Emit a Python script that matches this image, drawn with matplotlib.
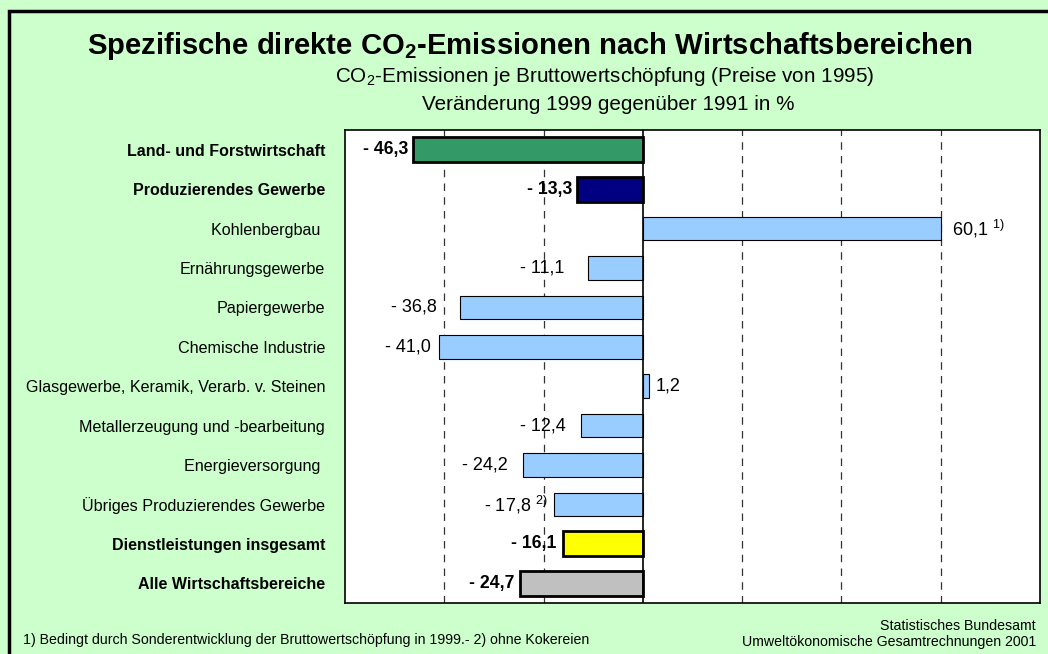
import matplotlib
matplotlib.use("Agg")
import matplotlib.pyplot as plt
from matplotlib.patches import Rectangle

plt.rcParams['font.family'] = ['Liberation Sans', 'DejaVu Sans']
plt.rcParams['mathtext.fontset'] = 'custom'
plt.rcParams['mathtext.rm'] = 'Liberation Sans'
plt.rcParams['mathtext.it'] = 'Liberation Sans:italic'
plt.rcParams['mathtext.bf'] = 'Liberation Sans:bold'

# ---- data ----
categories = [
    "Land- und Forstwirtschaft",
    "Produzierendes Gewerbe",
    "Kohlenbergbau ",
    "Ernährungsgewerbe",
    "Papiergewerbe",
    "Chemische Industrie",
    "Glasgewerbe, Keramik, Verarb. v. Steinen",
    "Metallerzeugung und -bearbeitung",
    "Energieversorgung ",
    "Übriges Produzierendes Gewerbe",
    "Dienstleistungen insgesamt",
    "Alle Wirtschaftsbereiche",
]
values = [-46.3, -13.3, 60.1, -11.1, -36.8, -41.0, 1.2, -12.4, -24.2, -17.8, -16.1, -24.7]
notes = ["", "", "1)", "", "", "", "", "", "", "2)", "", ""]

# ---- styles ----
bold = [True, True, False, False, False, False, False, False, False, False, True, True]
colors = ["#339966", "#000080", "#99CCFF", "#99CCFF", "#99CCFF", "#99CCFF", "#99CCFF",
          "#99CCFF", "#99CCFF", "#99CCFF", "#FFFF00", "#C0C0C0"]
label_gap = [5, 5, 11, 23, 23, 8, 7, 16, 15, 7, 7, 6]  # pixels between bar end and label

BG = "#CCFFCC"
fig = plt.figure(figsize=(10.48, 6.54), dpi=100, facecolor=BG)
W, H = 1048, 654
renderer = fig.canvas.get_renderer()


def fit_width(t, target_px):
    w = t.get_window_extent(renderer).width
    if w > 0:
        t.set_fontsize(t.get_fontsize() * target_px / w)
    return t.get_fontsize()


# outer frame
fig.patches.append(Rectangle((9 / W, -0.1), 1.2, 1 - 11 / H + 0.1, transform=fig.transFigure,
                             fill=False, edgecolor="black", linewidth=2.5))

ax = fig.add_axes([345 / W, 1 - 603 / H, (1040 - 345) / W, (603 - 130) / H])
ax.set_facecolor("white")

n = len(categories)
ypos = list(range(n))
for i, (v, c, b) in enumerate(zip(values, colors, bold)):
    ax.barh(i, v, height=0.63 if b else 0.6, color=c, edgecolor="black",
            linewidth=2.0 if b else 0.8, zorder=3)

ax.set_xlim(-60, 80)
ax.set_ylim(n - 0.5, -0.5)
for gx in [-40, -20, 20, 40, 60]:
    ax.axvline(gx, color="#333333", linestyle=(0, (6, 5)), linewidth=0.9, zorder=1)
ax.axvline(0, color="black", linewidth=1.2, zorder=4)

ax.set_xticks([])
ax.set_yticks(ypos)
ax.set_yticklabels(categories)
ax.tick_params(axis="y", length=0, pad=14.4)
for s in ax.spines.values():
    s.set_linewidth(1.2)
    s.set_color("black")

# category label sizes: fit normal and bold references
ylabels = ax.get_yticklabels()
for lab, b in zip(ylabels, bold):
    lab.set_fontsize(10)
    lab.set_fontweight("bold" if b else "normal")
fig.canvas.draw()
fs_norm = fit_width(ylabels[6], 299)
fs_bold = fit_width(ylabels[0], 197)
for lab, b in zip(ylabels, bold):
    lab.set_fontsize(fs_bold if b else fs_norm)


def fmt(v):
    s = f"{abs(v):.1f}".replace(".", ",")
    return ("- " + s) if v < 0 else s


# value label sizes
probe_n = fig.text(0, 0, "- 17,8", fontsize=10)
probe_b = fig.text(0, 0, "- 46,3", fontsize=10, fontweight="bold")
vfs_norm = fit_width(probe_n, 46)
vfs_bold = fit_width(probe_b, 45)
probe_n.remove()
probe_b.remove()

for i, (v, b, g, nt) in enumerate(zip(values, bold, label_gap, notes)):
    txt = fmt(v)
    if nt:
        txt = txt + " $^{" + nt + "}$"
    fs = vfs_bold if b else vfs_norm
    fw = "bold" if b else "normal"
    if v < 0:
        ax.annotate(txt, (v, i), xytext=(-g, 0), textcoords="offset pixels",
                    ha="right", va="center", fontsize=fs, fontweight=fw, zorder=5)
    else:
        ax.annotate(txt, (v, i), xytext=(g, 0), textcoords="offset pixels",
                    ha="left", va="center", fontsize=fs, fontweight=fw, zorder=5)

# titles
t1 = fig.text(530 / W, 1 - 46 / H,
              r"Spezifische direkte CO$_\mathbf{2}$-Emissionen nach Wirtschaftsbereichen",
              ha="center", va="center", fontsize=17, fontweight="bold")
t2 = fig.text(605 / W, 1 - 77 / H, r"CO$_2$-Emissionen je Bruttowertschöpfung (Preise von 1995)",
              ha="center", va="center", fontsize=12.5)
t3 = fig.text(608 / W, 1 - 104 / H, "Veränderung 1999 gegenüber 1991 in %",
              ha="center", va="center", fontsize=12.5)
fit_width(t1, 885)
fit_width(t2, 540)
t3.set_fontsize(t2.get_fontsize())

# footnotes
f1 = fig.text(23 / W, 1 - 640 / H,
              "1) Bedingt durch Sonderentwicklung der Bruttowertschöpfung in 1999.- 2) ohne Kokereien",
              ha="left", va="center", fontsize=8.5)
f2 = fig.text(1036 / W, 1 - 626 / H, "Statistisches Bundesamt", ha="right", va="center", fontsize=8.5)
f3 = fig.text(1036 / W, 1 - 642 / H, "Umweltökonomische Gesamtrechnungen 2001",
              ha="right", va="center", fontsize=8.5)
ffs = fit_width(f3, 294)
f1.set_fontsize(ffs)
f2.set_fontsize(ffs)

fig.savefig("out.png", dpi=100, facecolor=BG)
